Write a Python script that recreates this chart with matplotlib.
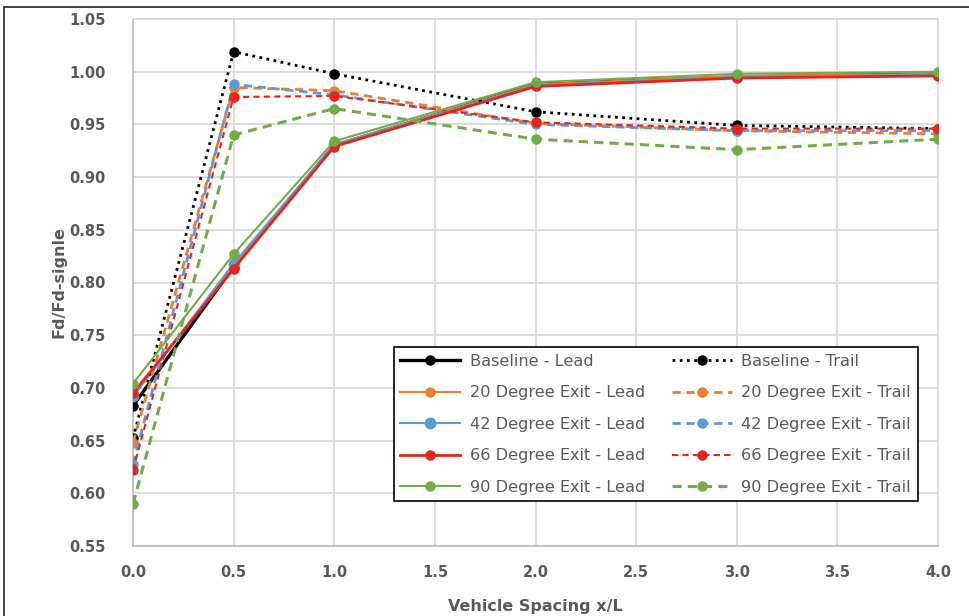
import matplotlib
matplotlib.use("Agg")
import matplotlib.pyplot as plt
from matplotlib.patches import Rectangle

# spacing x/L
x = [0.0, 0.5, 1.0, 2.0, 3.0, 4.0]

baseline_lead = [0.683, 0.815, 0.930, 0.988, 0.995, 0.998]
baseline_trail = [0.652, 1.019, 0.998, 0.962, 0.949, 0.946]
deg20_lead = [0.692, 0.816, 0.931, 0.988, 0.996, 0.998]
deg20_trail = [0.648, 0.985, 0.982, 0.951, 0.944, 0.941]
deg42_lead = [0.692, 0.818, 0.931, 0.987, 0.995, 0.997]
deg42_trail = [0.628, 0.988, 0.978, 0.950, 0.944, 0.944]
deg66_lead = [0.695, 0.813, 0.929, 0.986, 0.994, 0.996]
deg66_trail = [0.622, 0.976, 0.977, 0.952, 0.946, 0.946]
deg90_lead = [0.704, 0.827, 0.934, 0.990, 0.998, 1.000]
deg90_trail = [0.590, 0.940, 0.965, 0.936, 0.926, 0.936]

BLACK = "#000000"
ORANGE = "#ed7d31"
BLUE = "#5b9bd5"
RED = "#e8231a"
GREEN = "#70ad47"
TXT = "#595959"

fig = plt.figure(figsize=(9.7, 6.16), dpi=100)
ax = fig.add_axes([133 / 970, 1 - 546 / 616, 805 / 970, 527 / 616])

# chart area border (Excel style)
fig.patches.append(Rectangle((4 / 970, -0.1), 2.0, 1 - 7 / 616 + 0.1,
                             transform=fig.transFigure, fill=False,
                             edgecolor="#222222", linewidth=1.2))

ms = 6.5
ax.plot(x, baseline_lead, "-", color=BLACK, lw=2.4, marker="o", ms=ms,
        label="Baseline - Lead", zorder=3)
ax.plot(x, deg20_lead, "-", color=ORANGE, lw=1.5, marker="o", ms=ms,
        label="20 Degree Exit - Lead", zorder=3)
ax.plot(x, deg42_lead, "-", color=BLUE, lw=1.5, marker="o", ms=ms + 1,
        label="42 Degree Exit - Lead", zorder=3)
ax.plot(x, deg66_lead, "-", color=RED, lw=2.0, marker="o", ms=ms,
        label="66 Degree Exit - Lead", zorder=4)
ax.plot(x, deg90_lead, "-", color=GREEN, lw=1.5, marker="o", ms=ms,
        label="90 Degree Exit - Lead", zorder=5)

ax.plot(x, baseline_trail, color=BLACK, lw=2.0, ls=(0, (1, 1.6)), marker="o",
        ms=ms, label="Baseline - Trail", zorder=3)
ax.plot(x, deg20_trail, color=ORANGE, lw=2.0, ls=(0, (3, 2)), marker="o",
        ms=ms, label="20 Degree Exit - Trail", zorder=3)
ax.plot(x, deg42_trail, color=BLUE, lw=2.0, ls=(0, (3, 2)), marker="o",
        ms=ms, label="42 Degree Exit - Trail", zorder=3)
ax.plot(x, deg66_trail, color=RED, lw=1.5, ls=(0, (3, 2)), marker="o",
        ms=ms, label="66 Degree Exit - Trail", zorder=4)
ax.plot(x, deg90_trail, color=GREEN, lw=2.2, ls=(0, (3, 2)), marker="o",
        ms=ms, label="90 Degree Exit - Trail", zorder=4)

ax.set_xlim(0, 4)
ax.set_ylim(0.55, 1.05)
ax.set_xticks([0.0, 0.5, 1.0, 1.5, 2.0, 2.5, 3.0, 3.5, 4.0])
ax.set_yticks([0.55 + 0.05 * i for i in range(11)])
ax.set_xticklabels([f"{v:.1f}" for v in ax.get_xticks()])
ax.set_yticklabels([f"{v:.2f}" for v in ax.get_yticks()])
ax.tick_params(length=0, labelsize=10.5, labelcolor=TXT)
for lab in ax.get_xticklabels() + ax.get_yticklabels():
    lab.set_fontweight("bold")
ax.tick_params(axis="x", pad=14)
ax.tick_params(axis="y", pad=20)
ax.grid(color="#d9d9d9", lw=1.3)
ax.set_axisbelow(True)
for side in ("top", "right"):
    ax.spines[side].set_color("#d9d9d9")
    ax.spines[side].set_linewidth(1.3)
for side in ("left", "bottom"):
    ax.spines[side].set_color("#bfbfbf")
    ax.spines[side].set_linewidth(1.3)

ax.set_xlabel("Vehicle Spacing x/L", fontsize=11.5, fontweight="bold",
              color=TXT, labelpad=13)
ax.set_ylabel("Fd/Fd-signle", fontsize=11.5, fontweight="bold",
              color=TXT, labelpad=2)

leg = ax.legend(ncol=2, loc="upper left", bbox_to_anchor=(0.314, 0.392),
                fontsize=11.6, labelcolor=TXT, frameon=True, fancybox=False,
                handlelength=3.7, handletextpad=0.6, columnspacing=1.7,
                labelspacing=1.02, borderpad=0.4)
leg.get_frame().set_edgecolor("#000000")
leg.get_frame().set_linewidth(1.2)
leg.get_frame().set_alpha(1)

fig.savefig("out.png", dpi=100)
